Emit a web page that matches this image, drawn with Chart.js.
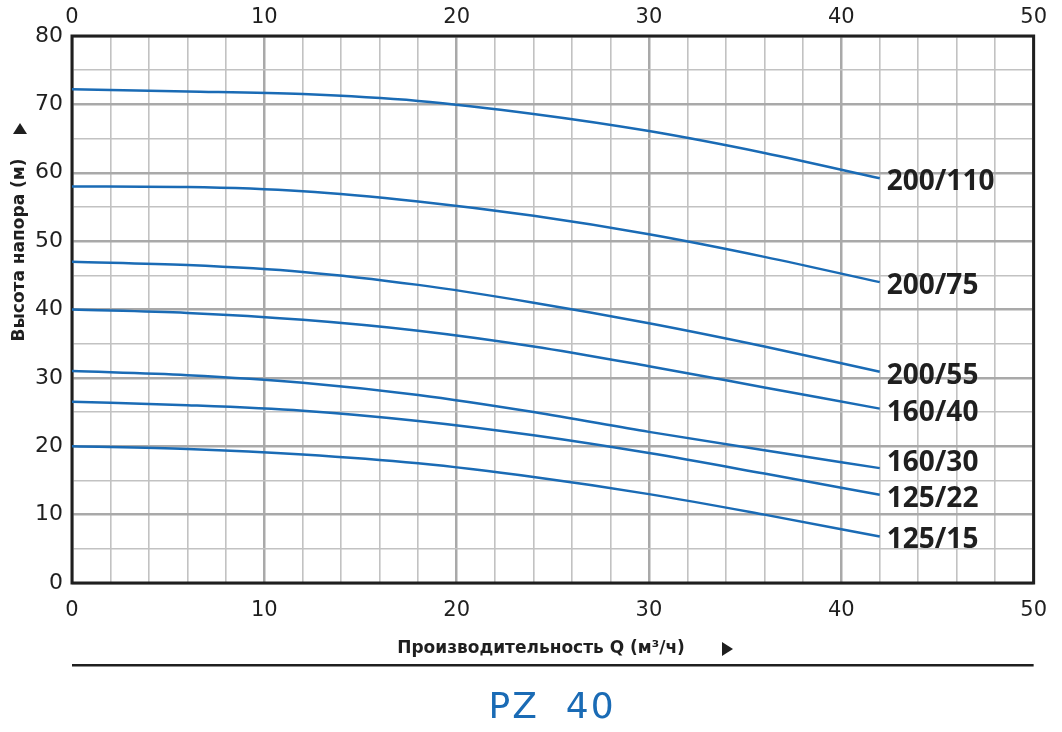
<!DOCTYPE html>
<html lang="ru">
<head>
<meta charset="utf-8">
<title>PZ 40</title>
<script src="https://cdn.jsdelivr.net/npm/chart.js@4.4.0/dist/chart.umd.min.js"></script>
<style>
  html, body { margin: 0; padding: 0; background: #fff; }
  #pump { display: block; }
</style>
</head>
<body>
<canvas id="pump" width="1062" height="732"></canvas>
<script>
// flow, m3/h
const flow = [0, 6, 12, 18, 24, 30, 36, 42];

// head, m
const head_200_110 = [72.2, 71.9, 71.5, 70.5, 68.6, 66.1, 62.9, 59.2];
const head_200_75 = [58.0, 57.9, 57.3, 55.8, 53.7, 51.0, 47.7, 44.0];
const head_200_55 = [47.0, 46.5, 45.5, 43.6, 41.0, 38.0, 34.6, 30.9];
const head_160_40 = [40.0, 39.5, 38.5, 36.9, 34.6, 31.7, 28.6, 25.5];
const head_160_30 = [31.0, 30.4, 29.3, 27.5, 25.0, 22.1, 19.4, 16.8];
const head_125_22 = [26.5, 26.0, 25.2, 23.7, 21.6, 19.0, 16.0, 12.9];
const head_125_15 = [20.0, 19.6, 18.8, 17.5, 15.5, 13.0, 10.0, 6.8];

const models = ["200/110", "200/75", "200/55", "160/40", "160/30", "125/22", "125/15"];
const heads = [head_200_110, head_200_75, head_200_55, head_160_40, head_160_30, head_125_22, head_125_15];

const xTicks = [0, 10, 20, 30, 40, 50];
const yTicks = [0, 10, 20, 30, 40, 50, 60, 70, 80];

const xTitle = "Производительность Q (м³/ч)";
const yTitle = "Высота напора (м)";
const chartTitle = "PZ  40";

const BLUE = "#1a6bb5";
const INK = "#1f1f1f";
const GRID_MAJOR = "#a9a9a9";
const GRID_MINOR = "#c2c2c2";

const datasets = heads.map(function (h, i) {
  return {
    label: models[i],
    data: flow.map(function (q, j) { return { x: q, y: h[j] }; }),
    borderColor: BLUE,
    borderWidth: 2.5,
    pointRadius: 0,
    cubicInterpolationMode: "monotone",
    fill: false,
  };
});

// labels at curve ends, frame, axis titles, arrows, rule, title
const extras = {
  id: "extras",
  beforeDatasetsDraw: function (chart) {
    const a = chart.chartArea;
    const c = chart.ctx;
    c.save();
    c.strokeStyle = INK;
    c.lineWidth = 3;
    c.strokeRect(a.left, a.top, a.right - a.left, a.bottom - a.top);
    c.restore();
  },
  afterDatasetsDraw: function (chart) {
    const c = chart.ctx;
    const xs = chart.scales.x;
    const ys = chart.scales.y;
    const a = chart.chartArea;
    c.save();

    // model labels
    c.fillStyle = INK;
    c.font = "bold 28px 'Open Sans'";
    c.textAlign = "left";
    c.textBaseline = "middle";
    heads.forEach(function (h, i) {
      const last = h.length - 1;
      let dy = 4;
      if (models[i] === "160/30") dy = -5;
      c.fillText(models[i], xs.getPixelForValue(flow[last]) + 7, ys.getPixelForValue(h[last]) + dy);
    });

    // x title + arrow
    c.font = "bold 17px 'DejaVu Sans'";
    c.textAlign = "center";
    c.fillText(xTitle, 541, 649);
    c.beginPath();
    c.moveTo(722, 642);
    c.lineTo(733, 649);
    c.lineTo(722, 656);
    c.closePath();
    c.fill();

    // y title + arrow
    c.save();
    c.translate(20, 250);
    c.rotate(-Math.PI / 2);
    c.fillText(yTitle, 0, 0);
    c.restore();
    c.beginPath();
    c.moveTo(13, 134);
    c.lineTo(20, 123);
    c.lineTo(27, 134);
    c.closePath();
    c.fill();

    // rule under the chart
    c.fillRect(a.left, 664, a.right - a.left, 2.5);

    // title
    c.fillStyle = BLUE;
    c.font = "36px 'DejaVu Sans'";
    c.letterSpacing = "2px";
    c.fillText(chartTitle, 552, 709);
    c.restore();
  },
};

new Chart(document.getElementById("pump"), {
  type: "line",
  data: { datasets: datasets },
  options: {
    responsive: false,
    animation: false,
    events: [],
    layout: { padding: { left: 0, right: 28, top: 0, bottom: 109 } },
    plugins: { legend: { display: false }, tooltip: { enabled: false } },
    scales: {
      x: {
        type: "linear",
        position: "bottom",
        min: 0,
        max: 50,
        afterFit: function (s) { s.height = 40; },
        border: { display: false },
        grid: {
          drawTicks: false,
          color: function (ctx) { return ctx.tick && ctx.tick.value % 10 === 0 ? GRID_MAJOR : GRID_MINOR; },
          lineWidth: function (ctx) { return ctx.tick && ctx.tick.value % 10 === 0 ? 2.5 : 1.6; },
        },
        ticks: {
          stepSize: 2,
          padding: 15,
          color: INK,
          font: { family: "'DejaVu Sans'", size: 21 },
          maxRotation: 0,
          autoSkip: false,
          callback: function (v) { return xTicks.includes(v) ? String(v) : ""; },
        },
      },
      x2: {
        type: "linear",
        position: "top",
        display: true,
        min: 0,
        max: 50,
        afterFit: function (s) { s.height = 36; },
        border: { display: false },
        grid: { display: false, drawTicks: false },
        ticks: {
          stepSize: 10,
          padding: 6,
          color: INK,
          font: { family: "'DejaVu Sans'", size: 21 },
          maxRotation: 0,
          callback: function (v) { return xTicks.includes(v) ? String(v) : ""; },
        },
      },
      y: {
        type: "linear",
        min: 0,
        max: 80,
        afterFit: function (s) { s.width = 72; },
        border: { display: false },
        grid: {
          drawTicks: false,
          color: function (ctx) { return ctx.tick && ctx.tick.value % 10 === 0 ? GRID_MAJOR : GRID_MINOR; },
          lineWidth: function (ctx) { return ctx.tick && ctx.tick.value % 10 === 0 ? 2.5 : 1.6; },
        },
        ticks: {
          stepSize: 5,
          padding: 9,
          color: INK,
          font: { family: "'DejaVu Sans'", size: 22 },
          callback: function (v) { return yTicks.includes(v) ? String(v) : ""; },
        },
      },
    },
  },
  plugins: [extras],
});
</script>
</body>
</html>
